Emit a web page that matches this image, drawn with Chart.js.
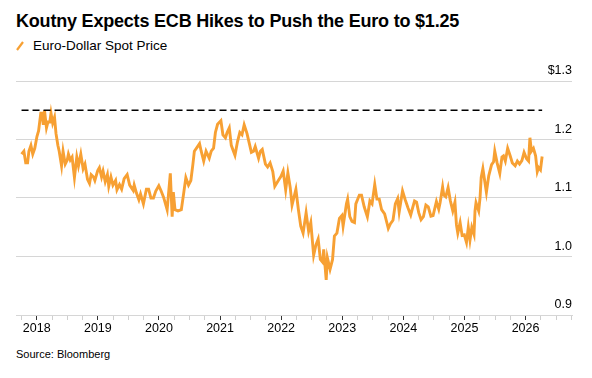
<!DOCTYPE html>
<html>
<head>
<meta charset="utf-8">
<script src="https://cdn.jsdelivr.net/npm/chart.js@4"></script>
<style>
  html, body { margin: 0; padding: 0; background: #fff; }
  body { width: 592px; height: 378px; position: relative; overflow: hidden; font-family: "Liberation Sans", Arial, sans-serif; color: #000; }
  #title { position: absolute; left: 16px; top: 11px; font-size: 18px; font-weight: bold; letter-spacing: -0.2px; white-space: nowrap; }
  #legend { position: absolute; left: 16px; top: 38px; font-size: 13.5px; white-space: nowrap; display: flex; align-items: center; }
  #legend svg { margin-right: 9px; }
  #source { position: absolute; left: 16px; top: 348px; font-size: 11px; white-space: nowrap; }
  #wrap { position: absolute; left: 0; top: 58px; width: 592px; height: 285px; }
</style>
</head>
<body>
<div id="title">Koutny Expects ECB Hikes to Push the Euro to $1.25</div>
<div id="legend"><svg width="8" height="10"><line x1="1" y1="9" x2="7" y2="1" stroke="#f7a033" stroke-width="2.2"/></svg><span>Euro-Dollar Spot Price</span></div>
<div id="wrap"><canvas id="c"></canvas></div>
<div id="source">Source: Bloomberg</div>
<script>
// ---- data ----
const dates = [
 "2017-10-02","2017-10-16","2017-10-27","2017-11-07","2017-11-15","2017-11-27","2017-12-08","2017-12-20",
 "2018-01-02","2018-01-12","2018-01-25","2018-02-01","2018-02-09","2018-02-16","2018-02-28","2018-03-09","2018-03-20","2018-03-27","2018-04-06","2018-04-17","2018-04-26","2018-05-07","2018-05-15","2018-05-29","2018-06-07","2018-06-20","2018-07-02","2018-07-09","2018-07-20","2018-07-31","2018-08-14","2018-08-28","2018-09-07","2018-09-21","2018-10-05","2018-10-16","2018-10-31","2018-11-12","2018-11-22","2018-12-06","2018-12-14","2018-12-31",
 "2019-01-10","2019-01-23","2019-02-01","2019-02-14","2019-02-27","2019-03-07","2019-03-20","2019-04-01","2019-04-17","2019-04-25","2019-05-10","2019-05-23","2019-06-07","2019-06-25","2019-07-10","2019-07-31","2019-08-06","2019-08-20","2019-09-03","2019-09-13","2019-09-30","2019-10-18","2019-10-31","2019-11-14","2019-11-29","2019-12-13","2019-12-31",
 "2020-01-14","2020-01-29","2020-02-19","2020-03-09","2020-03-20","2020-03-27","2020-04-06","2020-04-24","2020-05-14","2020-05-29","2020-06-10","2020-06-26","2020-07-10","2020-07-22","2020-07-31","2020-08-17","2020-08-31","2020-09-10","2020-09-25","2020-10-09","2020-10-28","2020-11-09","2020-11-23","2020-12-04","2020-12-17",
 "2021-01-06","2021-01-18","2021-02-02","2021-02-12","2021-02-25","2021-03-09","2021-03-31","2021-04-15","2021-04-29","2021-05-12","2021-05-25","2021-06-11","2021-06-25","2021-07-07","2021-07-20","2021-07-30","2021-08-19","2021-08-30","2021-09-10","2021-09-29","2021-10-12","2021-10-27","2021-11-12","2021-11-24","2021-12-15","2021-12-31",
 "2022-01-13","2022-01-28","2022-02-10","2022-02-24","2022-03-07","2022-03-30","2022-04-14","2022-04-28","2022-05-12","2022-05-30","2022-06-14","2022-06-27","2022-07-14","2022-07-28","2022-08-10","2022-08-23","2022-09-06","2022-09-12","2022-09-27","2022-10-04","2022-10-20","2022-11-04","2022-11-15","2022-11-30","2022-12-15","2022-12-30",
 "2023-01-06","2023-01-26","2023-02-02","2023-02-15","2023-02-28","2023-03-15","2023-03-23","2023-04-13","2023-04-26","2023-05-12","2023-05-31","2023-06-15","2023-06-28","2023-07-14","2023-07-27","2023-08-10","2023-08-24","2023-09-11","2023-09-26","2023-10-03","2023-10-16","2023-10-31","2023-11-14","2023-11-28","2023-12-07","2023-12-27",
 "2024-01-12","2024-01-29","2024-02-14","2024-02-27","2024-03-08","2024-03-20","2024-04-02","2024-04-16","2024-04-30","2024-05-15","2024-05-29","2024-06-14","2024-06-27","2024-07-17","2024-07-31","2024-08-08","2024-08-23","2024-08-30","2024-09-11","2024-09-25","2024-10-08","2024-10-23","2024-11-05","2024-11-14","2024-11-22","2024-12-06","2024-12-18","2024-12-31",
 "2025-01-13","2025-01-24","2025-02-03","2025-02-14","2025-02-27","2025-03-05","2025-03-11","2025-03-27","2025-04-04","2025-04-11","2025-04-21","2025-05-12","2025-05-26","2025-06-12","2025-06-24","2025-07-01","2025-07-15","2025-07-31","2025-08-13","2025-08-22","2025-09-02","2025-09-16","2025-09-30","2025-10-14","2025-10-31","2025-11-13","2025-11-26","2025-12-10","2025-12-23",
 "2026-01-07","2026-01-19","2026-01-27","2026-02-05","2026-02-17","2026-03-02","2026-03-12","2026-03-20","2026-03-31","2026-04-10"
];
const eurusd = [
 1.175,1.180,1.160,1.160,1.180,1.190,1.175,1.185,
 1.205,1.215,1.245,1.245,1.225,1.250,1.220,1.230,1.230,1.245,1.228,1.238,1.210,1.190,1.180,1.155,1.180,1.158,1.165,1.175,1.165,1.170,1.135,1.170,1.155,1.175,1.150,1.158,1.132,1.125,1.140,1.136,1.130,1.147,
 1.152,1.136,1.146,1.128,1.140,1.120,1.136,1.122,1.130,1.114,1.123,1.115,1.133,1.140,1.122,1.113,1.122,1.108,1.097,1.107,1.090,1.115,1.115,1.100,1.100,1.112,1.121,
 1.112,1.101,1.080,1.142,1.068,1.110,1.080,1.078,1.080,1.110,1.135,1.122,1.130,1.157,1.180,1.187,1.193,1.180,1.163,1.180,1.168,1.180,1.185,1.212,1.226,
 1.232,1.208,1.203,1.212,1.220,1.190,1.173,1.196,1.212,1.208,1.225,1.210,1.193,1.178,1.180,1.188,1.168,1.180,1.183,1.158,1.153,1.160,1.145,1.120,1.130,1.137,
 1.146,1.114,1.143,1.118,1.088,1.115,1.080,1.052,1.040,1.075,1.043,1.058,1.002,1.020,1.030,0.995,0.990,1.012,0.960,0.998,0.978,0.995,1.035,1.040,1.065,1.070,
 1.052,1.090,1.098,1.068,1.060,1.058,1.090,1.105,1.105,1.085,1.068,1.095,1.090,1.123,1.098,1.098,1.080,1.073,1.056,1.048,1.056,1.062,1.090,1.099,1.076,1.112,
 1.097,1.083,1.071,1.085,1.095,1.093,1.075,1.063,1.068,1.088,1.085,1.069,1.070,1.094,1.081,1.092,1.119,1.105,1.102,1.118,1.096,1.078,1.093,1.054,1.040,1.058,1.036,1.037,
 1.024,1.050,1.028,1.050,1.038,1.078,1.092,1.078,1.100,1.135,1.150,1.110,1.138,1.157,1.162,1.180,1.160,1.142,1.170,1.172,1.163,1.185,1.173,1.160,1.155,1.163,1.158,1.164,1.178,
 1.167,1.163,1.203,1.180,1.185,1.172,1.145,1.152,1.148,1.171
];
const targetLevel = 1.25;
const yearLabels = ["2018","2019","2020","2021","2022","2023","2024","2025","2026"];
const yTickLabels = ["0.9","1.0","1.1","1.2","$1.3"];

// decimal-year conversion for a linear x scale
function toYear(s) {
  const [y, m, d] = s.split("-").map(Number);
  const start = Date.UTC(y, 0, 1), end = Date.UTC(y + 1, 0, 1);
  return y + (Date.UTC(y, m - 1, d) - start) / (end - start);
}
const xs = dates.map(toYear);
const series = xs.map((x, i) => ({ x, y: eurusd[i] }));
const target = [{ x: xs[0], y: targetLevel }, { x: xs[xs.length - 1], y: targetLevel }];
const firstYear = Number(yearLabels[0]);

new Chart(document.getElementById("c"), {
  type: "line",
  data: {
    datasets: [
      { data: target, borderColor: "#000", borderWidth: 1.6, borderDash: [7, 4], pointRadius: 0, fill: false },
      { data: series, borderColor: "#f7a033", borderWidth: 2.9, pointRadius: 0, tension: 0, fill: false }
    ]
  },
  options: {
    responsive: true, maintainAspectRatio: false, animation: false,
    layout: { padding: { left: 16, right: 20, top: 23, bottom: 6 } },
    plugins: { legend: { display: false }, tooltip: { enabled: false } },
    scales: {
      x: {
        type: "linear", min: 2017.66, max: 2026.76,
        afterBuildTicks: (ax) => {
          const t = [];
          for (let q = 0; q < 37; q++) t.push({ value: 2017.75 + q * 0.25 });
          ax.ticks = t;
        },
        ticks: {
          autoSkip: false, maxRotation: 0, padding: 1, color: "#000",
          font: { family: "'Liberation Sans', Arial, sans-serif", size: 12.5 },
          callback: (v) => {
            const i = Math.round(v) - firstYear;
            return Math.abs(v - Math.round(v)) < 1e-6 && yearLabels[i] ? yearLabels[i] : "";
          }
        },
        grid: {
          drawOnChartArea: false, drawTicks: true, tickLength: 5, tickWidth: 1,
          tickColor: (c) => (Math.abs(c.tick.value - Math.round(c.tick.value)) < 1e-6 ? "#333" : "#cfcfcf")
        },
        border: { display: true, color: "#d6d6d6", width: 1 }
      },
      y: {
        position: "right", min: 0.9, max: 1.3,
        afterBuildTicks: (ax) => { ax.ticks = yTickLabels.map((_, i) => ({ value: 0.9 + i * 0.1 })); },
        ticks: {
          mirror: true, padding: 0, labelOffset: -10, color: "#000",
          font: { family: "'Liberation Sans', Arial, sans-serif", size: 12.5 },
          callback: (v, i) => yTickLabels[i]
        },
        grid: { color: "#d6d6d6", lineWidth: 1, drawTicks: false },
        border: { display: false }
      }
    }
  }
});
</script>
</body>
</html>
